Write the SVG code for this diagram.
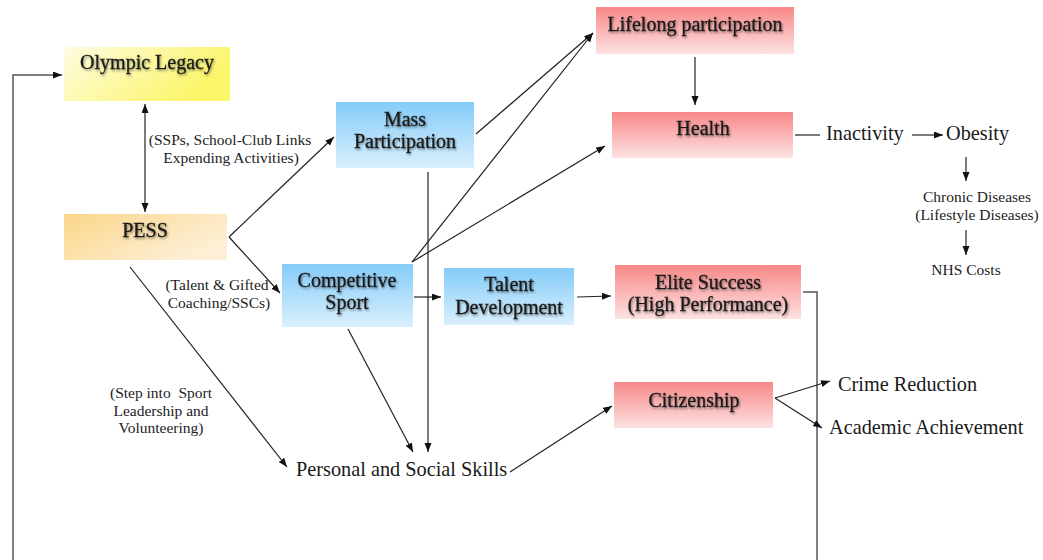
<svg xmlns="http://www.w3.org/2000/svg" width="1043" height="560" viewBox="0 0 1043 560">
  <style>
    text { font-family: 'Liberation Serif', 'DejaVu Serif', serif; }
    .title { font-size: 20px; fill: #1a1a1a; stroke: #1a1a1a; stroke-width: 0.3; text-anchor: middle; filter: url(#txtShadow); }
    .plain { font-size: 20.3px; fill: #1a1a1a; }
    .note { font-size: 15.5px; fill: #222; text-anchor: middle; }
    .conn { stroke: #222; stroke-width: 1.2; fill: none; }
    .arr { marker-end: url(#head); }
    .loop { stroke: #555; stroke-width: 1.5; fill: none; }
  </style>
  <defs>
    <marker id="head" markerUnits="userSpaceOnUse" markerWidth="10" markerHeight="8" refX="9" refY="3.5" orient="auto-start-reverse">
      <path d="M0,0 L9,3.5 L0,7 z" fill="#111"/>
    </marker>
    <filter id="txtShadow" x="-10%" y="-30%" width="120%" height="160%">
      <feDropShadow dx="1" dy="1.5" stdDeviation="1" flood-color="#000" flood-opacity="0.45"/>
    </filter>
    <linearGradient id="gYellow" x1="0" y1="0" x2="1" y2="0.4">
      <stop offset="0" stop-color="#fefce2"/>
      <stop offset="1" stop-color="#fbf568"/>
    </linearGradient>
    <linearGradient id="gOrange" x1="0" y1="0" x2="1" y2="0.6">
      <stop offset="0" stop-color="#fbd68a"/>
      <stop offset="1" stop-color="#fdefd6"/>
    </linearGradient>
    <linearGradient id="gBlue" x1="0" y1="0" x2="0" y2="1">
      <stop offset="0" stop-color="#84ccf9"/>
      <stop offset="1" stop-color="#daf0fd"/>
    </linearGradient>
    <linearGradient id="gRed" x1="0" y1="0" x2="0" y2="1">
      <stop offset="0" stop-color="#f88888"/>
      <stop offset="1" stop-color="#fde2e2"/>
    </linearGradient>
  </defs>

  <rect width="1043" height="560" fill="#ffffff"/>

  <!-- connectors -->
  <g id="connectors">
    <path class="loop arr" d="M13,560 L13,75 L62,75"/>
    <path class="loop" d="M803,292 L817,292 L817,560"/>
    <line class="conn arr" x1="145" y1="104" x2="145" y2="212" style="marker-start:url(#head)"/>
    <line class="conn arr" x1="229" y1="237" x2="334" y2="137"/>
    <line class="conn arr" x1="229" y1="237" x2="280" y2="293"/>
    <line class="conn arr" x1="130" y1="267" x2="287" y2="467"/>
    <line class="conn arr" x1="476" y1="134" x2="593" y2="33"/>
    <line class="conn arr" x1="412" y1="262" x2="593" y2="33"/>
    <line class="conn arr" x1="412" y1="262" x2="605" y2="146"/>
    <line class="conn arr" x1="428" y1="172" x2="428" y2="452"/>
    <line class="conn arr" x1="348" y1="329" x2="413" y2="452"/>
    <line class="conn arr" x1="414" y1="297" x2="441" y2="297"/>
    <line class="conn arr" x1="577" y1="297" x2="611" y2="296"/>
    <line class="conn arr" x1="695" y1="57" x2="695" y2="105"/>
    <line class="conn arr" x1="510" y1="472" x2="612" y2="406"/>
    <line class="conn arr" x1="775" y1="398" x2="830" y2="381"/>
    <line class="conn arr" x1="775" y1="398" x2="822" y2="428"/>
    <line class="conn" x1="795" y1="135" x2="820" y2="135"/>
    <line class="conn arr" x1="912" y1="135" x2="943" y2="135"/>
    <line class="conn arr" x1="966" y1="157" x2="966" y2="181"/>
    <line class="conn arr" x1="966" y1="230" x2="966" y2="255"/>
  </g>

  <!-- connector notes -->
  <g id="notes">
    <text class="note" x="230" y="145">(SSPs, School-Club Links</text>
    <text class="note" x="231" y="163">Expending Activities)</text>
    <text class="note" x="217" y="290">(Talent &amp; Gifted</text>
    <text class="note" x="219" y="308">Coaching/SSCs)</text>
    <text class="note" x="161" y="398" xml:space="preserve">(Step into  Sport</text>
    <text class="note" x="161" y="416">Leadership and</text>
    <text class="note" x="161" y="433">Volunteering)</text>
  </g>

  <!-- boxed nodes -->
  <g id="olympic-legacy">
    <rect x="64" y="47" width="166" height="54" fill="url(#gYellow)"/>
    <text class="title" x="147" y="69">Olympic Legacy</text>
  </g>
  <g id="pess">
    <rect x="64" y="214" width="163" height="46" fill="url(#gOrange)"/>
    <text class="title" x="145" y="237">PESS</text>
  </g>
  <g id="mass-participation">
    <rect x="336" y="102" width="138" height="66" fill="url(#gBlue)"/>
    <text class="title" x="405" y="126">Mass</text>
    <text class="title" x="405" y="148">Participation</text>
  </g>
  <g id="competitive-sport">
    <rect x="282" y="264" width="131" height="63" fill="url(#gBlue)"/>
    <text class="title" x="347" y="287">Competitive</text>
    <text class="title" x="347" y="309">Sport</text>
  </g>
  <g id="talent-development">
    <rect x="444" y="268" width="130" height="57" fill="url(#gBlue)"/>
    <text class="title" x="509" y="291">Talent</text>
    <text class="title" x="509" y="314">Development</text>
  </g>
  <g id="lifelong-participation">
    <rect x="596" y="7" width="198" height="47" fill="url(#gRed)"/>
    <text class="title" x="695" y="31">Lifelong participation</text>
  </g>
  <g id="health">
    <rect x="612" y="112" width="181" height="46" fill="url(#gRed)"/>
    <text class="title" x="703" y="135">Health</text>
  </g>
  <g id="elite-success">
    <rect x="615" y="265" width="186" height="54" fill="url(#gRed)"/>
    <text class="title" x="708" y="289">Elite Success</text>
    <text class="title" x="708" y="311">(High Performance)</text>
  </g>
  <g id="citizenship">
    <rect x="614" y="382" width="159" height="46" fill="url(#gRed)"/>
    <text class="title" x="694" y="407">Citizenship</text>
  </g>

  <!-- plain text nodes -->
  <g id="personal-social-skills">
    <text class="plain" x="296" y="476">Personal and Social Skills</text>
  </g>
  <g id="crime-reduction">
    <text class="plain" x="838" y="391">Crime Reduction</text>
  </g>
  <g id="academic-achievement">
    <text class="plain" x="829" y="434">Academic Achievement</text>
  </g>
  <g id="inactivity">
    <text class="plain" x="826" y="140">Inactivity</text>
  </g>
  <g id="obesity">
    <text class="plain" x="946" y="140">Obesity</text>
  </g>
  <g id="chronic-diseases">
    <text class="note" x="977" y="202">Chronic Diseases</text>
    <text class="note" x="977" y="220">(Lifestyle Diseases)</text>
  </g>
  <g id="nhs-costs">
    <text class="note" x="966" y="275">NHS Costs</text>
  </g>
</svg>
